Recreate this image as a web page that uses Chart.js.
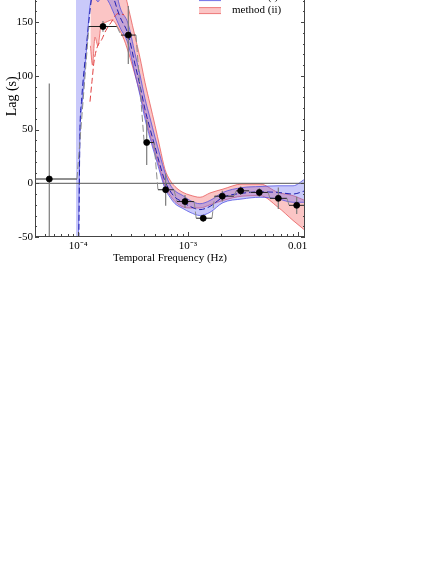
<!DOCTYPE html>
<html>
<head>
<meta charset="utf-8">
<script src="https://cdn.jsdelivr.net/npm/chart.js@4.4.1/dist/chart.umd.min.js"></script>
<style>
  body { margin: 0; background: #fff; width: 441px; height: 570px; overflow: hidden; position: relative; }
  #lagChart { position: absolute; left: 0; top: -53px; }
</style>
</head>
<body>
<canvas id="lagChart" width="330" height="323"></canvas>
<script>
// axis ranges
const freqMin = 4.03e-5
const freqMax = 0.0117
const lagMin = -50
const lagMax = 212

const xMajorTicks = [1e-4, 1e-3, 1e-2]
const xTickLabels = ['10⁻⁴', '10⁻³', '0.01']
const yMajorTicks = [-50, 0, 50, 100, 150, 200]
const yTickLabels = ['-50', '0', '50', '100', '150', '200']

// measured lags (black points)
const ptFreq = [5.44e-5, 1.68e-4, 2.86e-4, 4.21e-4, 6.27e-4, 9.41e-4, 1.38e-3, 2.06e-3, 3.03e-3, 4.48e-3, 6.68e-3, 9.83e-3]
const ptLag  = [4, 146, 138, 38, -6, -17, -32.5, -12, -7, -8.5, -14, -20.5]
const ptErr  = [89, 5, 27, 21, 15, 6, 3, 5, 4, 4, 10, 8]
const binLo  = [4.03e-5, 1.25e-4, 2.45e-4, 3.99e-4, 5.33e-4, 7.95e-4, 1.19e-3, 1.75e-3, 2.76e-3, 3.76e-3, 5.61e-3, 8.36e-3]
const binHi  = [9.73e-5, 2.25e-4, 3.36e-4, 4.91e-4, 7.46e-4, 1.14e-3, 1.66e-3, 2.63e-3, 3.61e-3, 5.38e-3, 8.02e-3, 1.17e-2]

// method (i) band
const blueFreq = [9.53e-5, 1.004e-4, 1.036e-4, 1.081e-4, 1.176e-4, 1.279e-4, 1.391e-4, 1.512e-4, 1.645e-4, 1.866e-4, 2.117e-4, 2.402e-4, 2.841e-4, 3.29e-4, 3.656e-4, 4.06e-4, 4.51e-4, 5.01e-4, 5.565e-4, 6.18e-4, 6.865e-4, 7.625e-4, 9.02e-4, 1.045e-3, 1.289e-3, 1.591e-3, 2.09e-3, 3.116e-3, 4.55e-3, 6.64e-3, 9.1e-3, 1.17e-2]
const blueLo = [-100, -50, 45, 72, 118, 165, 174, 169, 175, 170, 158, 145, 130, 102, 82, 60, 42, 26, 10, -5, -13, -19, -23.5, -27, -30, -27, -18, -14.6, -13, -14.6, -17.7, -17.7]
const blueHi = [260, 260, 260, 260, 260, 260, 260, 260, 250, 225, 190, 164, 149, 121, 101, 79, 61, 43, 26, 10, -1, -7, -11.5, -16, -19, -16, -8.5, -4, -3, -2.3, -2.3, 4]

// method (ii) band
const redFreq = [1.29e-4, 1.348e-4, 1.42e-4, 1.512e-4, 1.611e-4, 1.789e-4, 2.03e-4, 2.303e-4, 2.612e-4, 2.963e-4, 3.29e-4, 3.656e-4, 4.06e-4, 4.51e-4, 5.01e-4, 5.565e-4, 6.18e-4, 6.865e-4, 7.625e-4, 9.02e-4, 1.045e-3, 1.289e-3, 1.591e-3, 2.09e-3, 3.116e-3, 4.55e-3, 6.64e-3, 9.1e-3, 1.17e-2]
const redLo = [128, 110, 136, 128, 146, 150, 152, 145, 134, 117, 101, 84, 64, 45, 29, 13, -3, -11, -17, -22, -23, -23, -20, -16, -12, -11.5, -22.3, -34.6, -43.8]
const redHi = [260, 260, 260, 260, 260, 260, 245, 212, 182, 157, 137, 117, 94, 74, 54, 33, 13, 3, -3, -8.5, -11, -13, -9, -5.4, -0.7, -0.7, -8.5, -11.5, -16]

// dashed model curves
const blueDashFreq = [1.01e-4, 1.036e-4, 1.07e-4, 1.18e-4, 1.32e-4, 1.45e-4, 1.87e-4, 2.117e-4, 2.402e-4, 2.841e-4, 3.29e-4, 3.656e-4, 4.06e-4, 4.51e-4, 5.01e-4, 5.565e-4, 6.18e-4, 6.865e-4, 7.625e-4, 9.02e-4, 1.045e-3, 1.289e-3, 1.591e-3, 2.09e-3, 3.116e-3, 4.55e-3, 6.64e-3, 9.1e-3, 1.17e-2]
const blueDashLag  = [-60, 48, 76, 125, 172, 195, 195, 172, 155, 139, 111, 91, 69, 51, 34, 17, 2, -7, -13, -17.5, -21.5, -24.5, -21.5, -13, -9.3, -8, -8.5, -10, -7]
const redDashFreq = [1.279e-4, 1.334e-4, 1.391e-4, 1.48e-4, 1.64e-4, 1.78e-4, 2.0e-4, 2.3e-4, 2.61e-4]
const redDashLag  = [76, 95, 113, 126, 134, 142, 150, 158, 157]

const serif = '"Liberation Serif", "Times New Roman", serif'
const blueFill = 'rgba(100,100,240,0.35)'
const blueEdge = 'rgba(70,70,225,0.9)'
const redFill = 'rgba(245,110,110,0.4)'
const redEdge = 'rgba(230,80,80,0.9)'

const xy = (fs, ys) => fs.map((f, i) => ({x: f, y: ys[i]}))

// error bars and bins as broken polylines
const errData = []
ptFreq.forEach((f, i) => {
    errData.push({x: f, y: ptLag[i] - ptErr[i]}, {x: f, y: ptLag[i] + ptErr[i]}, {x: f, y: null})
})
const stepData = []
ptFreq.forEach((f, i) => {
    stepData.push({x: binLo[i], y: ptLag[i]}, {x: binHi[i], y: ptLag[i]})
})

const line = (extra) => Object.assign({
    type: 'line', pointRadius: 0, borderWidth: 0.8, fill: false, tension: 0
}, extra)

const datasets = [
    line({label: 'points', data: xy(ptFreq, ptLag), showLine: false, pointRadius: 3,
        pointBackgroundColor: '#000', pointBorderColor: '#000', order: 0}),
    line({label: 'err', data: errData, borderColor: '#7a7a7a', borderWidth: 1.2, spanGaps: false, order: 1}),
    line({label: 'bins', data: stepData, borderWidth: 1, order: 2,
        segment: {
            borderColor: c => c.p0DataIndex % 2 === 0 ? '#222' : '#8a8a8a',
            borderDash: c => c.p0DataIndex % 2 === 0 ? [] : [7, 3]
        }}),
    line({label: 'zero', data: [{x: freqMin, y: 0}, {x: freqMax, y: 0}], borderColor: '#555', borderWidth: 1, order: 3}),
    line({label: 'blue dash', data: xy(blueDashFreq, blueDashLag), borderColor: '#2020b0', borderWidth: 1, borderDash: [6, 3], cubicInterpolationMode: 'monotone', order: 4}),
    line({label: 'red dash', data: xy(redDashFreq, redDashLag), borderColor: '#e04040', borderWidth: 1, borderDash: [6, 3], cubicInterpolationMode: 'monotone', order: 4}),
    line({label: 'method (i) hi', data: xy(blueFreq, blueHi), borderColor: blueEdge, cubicInterpolationMode: 'monotone', order: 6}),
    line({label: 'method (i) lo', data: xy(blueFreq, blueLo), borderColor: blueEdge, backgroundColor: blueFill, fill: '-1', cubicInterpolationMode: 'monotone', order: 6}),
    line({label: 'method (ii) hi', data: xy(redFreq, redHi), borderColor: redEdge, cubicInterpolationMode: 'monotone', order: 8}),
    line({label: 'method (ii) lo', data: xy(redFreq, redLo), borderColor: redEdge, backgroundColor: redFill, fill: '-1', cubicInterpolationMode: 'monotone', order: 8})
]

// inward ticks + frame
const frameTicks = {
    id: 'frameTicks',
    afterDatasetsDraw(chart) {
        const {ctx, chartArea: a, scales: {x, y}} = chart
        ctx.save()
        ctx.strokeStyle = '#444'
        ctx.lineWidth = 1
        ctx.beginPath()
        for (let d = -5; d <= -2; d++) {
            for (let k = 1; k <= 9; k++) {
                const v = k * Math.pow(10, d)
                if (v < freqMin || v > freqMax) continue
                const px = Math.round(x.getPixelForValue(v)) + 0.5
                const len = k === 1 ? 5 : 3
                ctx.moveTo(px, a.bottom); ctx.lineTo(px, a.bottom - len)
                ctx.moveTo(px, a.top); ctx.lineTo(px, a.top + len)
            }
        }
        for (let v = lagMin; v <= lagMax; v += 10) {
            const py = Math.round(y.getPixelForValue(v)) + 0.5
            const len = v % 50 === 0 ? 4 : 2
            ctx.moveTo(a.left, py); ctx.lineTo(a.left + len, py)
            ctx.moveTo(a.right, py); ctx.lineTo(a.right - len, py)
        }
        ctx.stroke()
        ctx.strokeRect(a.left + 0.5, a.top + 0.5, a.right - a.left - 1, a.bottom - a.top - 1)
        ctx.restore()
    }
}

// legend inside the frame
const bandLegend = {
    id: 'bandLegend',
    afterDraw(chart) {
        const {ctx, chartArea: a} = chart
        const items = [['method (i)', blueFill, blueEdge], ['method (ii)', redFill, redEdge]]
        ctx.save()
        ctx.font = '11px ' + serif
        ctx.textBaseline = 'middle'
        items.forEach((it, i) => {
            const cy = a.top + 42 + i * 13
            const x0 = a.right - 106
            ctx.fillStyle = it[1]
            ctx.fillRect(x0, cy - 3, 22, 6)
            ctx.strokeStyle = it[2]
            ctx.lineWidth = 0.8
            ctx.beginPath()
            ctx.moveTo(x0, cy - 3); ctx.lineTo(x0 + 22, cy - 3)
            ctx.moveTo(x0, cy + 3); ctx.lineTo(x0 + 22, cy + 3)
            ctx.stroke()
            ctx.fillStyle = '#000'
            ctx.fillText(it[0], a.right - 73, cy)
        })
        ctx.restore()
    }
}

new Chart(document.getElementById('lagChart'), {
    type: 'line',
    data: {datasets: datasets},
    options: {
        responsive: false,
        animation: false,
        layout: {padding: {top: 6, right: 25, left: 0, bottom: 0}},
        plugins: {legend: {display: false}, tooltip: {enabled: false}},
        scales: {
            x: {
                type: 'logarithmic', min: freqMin, max: freqMax,
                grid: {display: false, drawTicks: false},
                border: {display: false},
                afterBuildTicks: s => { s.ticks = xMajorTicks.map(v => ({value: v})) },
                afterFit: s => { s.height = 33 },
                ticks: {
                    autoSkip: false, maxRotation: 0, padding: 3, color: '#000',
                    font: {family: serif, size: 11},
                    callback: (v) => xTickLabels[xMajorTicks.findIndex(t => Math.abs(t - v) / t < 1e-6)]
                },
                title: {display: true, text: 'Temporal Frequency (Hz)', color: '#000',
                    font: {family: serif, size: 11}, padding: {top: 0, bottom: 5}}
            },
            y: {
                min: lagMin, max: lagMax,
                grid: {display: false, drawTicks: false},
                border: {display: false},
                afterBuildTicks: s => { s.ticks = yMajorTicks.map(v => ({value: v})) },
                afterFit: s => { s.width = 35 },
                ticks: {
                    autoSkip: false, padding: 2, color: '#000',
                    font: {family: serif, size: 11},
                    callback: (v) => yTickLabels[yMajorTicks.indexOf(v)]
                },
                title: {display: true, text: 'Lag (s)', color: '#000',
                    font: {family: serif, size: 14}, padding: {top: 4, bottom: 0}}
            }
        }
    },
    plugins: [frameTicks, bandLegend]
})
</script>
</body>
</html>
